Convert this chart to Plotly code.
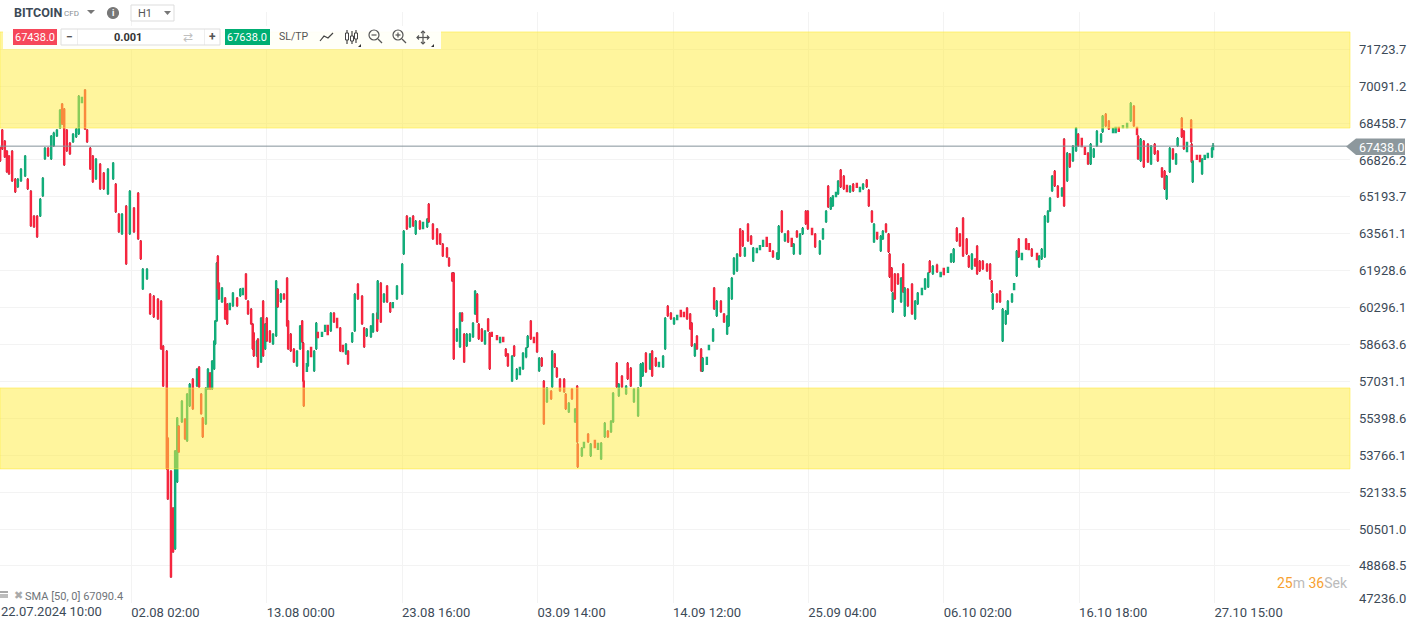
import plotly.graph_objects as go

WIDTH = 1415
HEIGHT = 623
PLOT_LEFT, PLOT_TOP, PLOT_W, PLOT_H = 0, 12, 1350, 591

bars = [
    8, 12, 17, 21, 25, 31, 37, 42, 48, 56,
    61, 67, 73, 79, 85, 90, 94, 100, 106, 111,
    117, 123, 127, 131, 136, 142, 148, 154, 159, 165,
    171, 175, 181, 186, 192, 200, 207, 215, 225, 230,
    236, 242, 250, 257, 265, 273, 278, 282, 290, 296,
    303, 311, 317, 321, 328, 330, 336, 340, 344, 348,
    351, 357, 363, 367, 372, 378, 386, 390, 394, 397,
    403, 407, 411, 415, 419, 421, 424, 426, 428, 434,
    440, 444, 449, 455, 463, 469, 474, 480, 484, 490,
    493, 495, 501, 503, 509, 513, 517, 520, 526, 532,
    538, 541, 547, 553, 559, 561, 566, 572, 578, 584,
    588, 590, 591, 597, 599, 605, 611, 615, 618, 626,
    632, 637, 643, 649, 655, 661, 666, 672, 676, 684,
    689, 695, 703, 707, 712, 720, 724, 732, 733, 739,
    745, 751, 757, 762, 770, 780, 783, 789, 795, 801,
    806, 814, 820, 828, 831, 839, 847, 853, 858, 866,
    870, 876, 879, 885, 891, 895, 899, 904, 910, 916,
    920, 924, 927, 933, 939, 945, 948, 952, 962, 968,
    974, 979, 983, 991, 995, 1000, 1006, 1012, 1018, 1021,
    1027, 1033, 1039, 1043, 1048, 1052, 1058, 1066, 1068, 1073,
    1077, 1083, 1091, 1094, 1100, 1106, 1112, 1116, 1117, 1125,
    1129, 1137, 1142, 1150, 1156, 1162, 1169, 1175, 1181, 1185,
    1192, 1196, 1202, 1210, 1213, 1219, 1225, 1233, 1238, 1242,
    1248, 1256, 1260, 1267, 1273, 1281, 1285, 1290, 1296, 1302,
    1308, 1315, 1321, 1327, 1333, 1336, 1342, 1346, 1354, 1357,
    1365, 1369, 1377, 1379, 1384, 1392, 1398, 1404, 1407, 1413,
    1417, 1423, 1429, 1434, 1438, 1444, 1450, 1454, 1461, 1467,
    1473, 1480, 1486, 1492, 1500, 1503, 1509, 1515, 1521, 1528,
    1532, 1538, 1544, 1549, 1555, 1559, 1567, 1573, 1582, 1588,
    1594, 1598, 1603, 1607, 1613, 1617, 1622, 1628, 1634, 1640,
    1646, 1653, 1659, 1665, 1672, 1676, 1682, 1686, 1692, 1699,
    1703, 1709, 1714, 1716, 1720, 1722, 1726, 1732, 1738, 1742,
    1745, 1751, 1759, 1765, 1770, 1778, 1784, 1790, 1793, 1799,
    1807, 1814, 1820, 1828, 1834, 1839, 1845, 1851, 1857, 1864,
    1868, 1874, 1880, 1884, 1889, 1895, 1903, 1909, 1912, 1914,
    1922, 1928, 1933, 1939, 1943, 1951, 1955, 1960, 1964, 1970,
    1978, 1983, 1989, 1999, 2003, 2008, 2014, 2020, 2024, 2028,
    2033, 2039, 2047, 2051, 2057, 2062, 2068, 2074, 2078, 2085,
    2091, 2097, 2102, 2108, 2114, 2122, 2125, 2131, 2137, 2145,
    2150, 2156, 2164, 2172, 2179, 2185, 2191, 2193, 2198, 2204,
    2212, 2218, 2225, 2231, 2239, 2244, 2248, 2254, 2260, 2266,
    2269, 2277, 2281, 2287, 2295, 2296, 2298, 2306, 2312, 2316,
    2321, 2327, 2335, 2337,
]

highs = [
    67400, 68200, 67710, 67270, 67050, 67270, 66030, 66030, 66470, 67050,
    66030, 65500, 64390, 64390, 65140, 66070, 67400, 67400, 67930, 68070,
    68200, 69080, 69350, 69130, 68200, 67620, 68020, 68240, 69700, 69610,
    69970, 68200, 67400, 67050, 66910, 66690, 66300, 66470, 66740, 65810,
    64480, 64480, 64830, 65500, 64750, 65410, 63290, 62050, 62050, 60940,
    60850, 60720, 60630, 58640, 58420, 54570, 53110, 51470, 54000, 55460,
    55100, 56210, 55410, 56520, 56960, 57180, 57620, 57710, 56520, 55460,
    56780, 57620, 57450, 57980, 58860, 59750, 62310, 62620, 61430, 61210,
    60770, 60500, 60500, 60990, 60770, 61160, 61160, 61830, 60630, 60280,
    59610, 59220, 58860, 58950, 59880, 60630, 59610, 59880, 59310, 59170,
    61520, 61160, 60940, 60940, 61650, 59750, 59170, 58510, 58420, 59530,
    59750, 58770, 57090, 57840, 58420, 58550, 58420, 59660, 59220, 59220,
    59530, 59530, 60100, 60100, 59840, 59440, 58640, 58730, 58420, 59220,
    60940, 61380, 60850, 59440, 59390, 59530, 60060, 60100, 61520, 61430,
    60940, 61300, 60540, 60540, 61300, 62270, 63730, 64390, 64300, 64390,
    64170, 64170, 64080, 64260, 64920, 64040, 63820, 63600, 63150, 62980,
    62530, 61870, 61870, 59390, 60100, 60100, 59170, 59170, 59170, 59660,
    61070, 60940, 59610, 59390, 59310, 59840, 59220, 59220, 59080, 59000,
    59000, 58510, 58290, 58200, 58640, 57620, 57670, 58330, 58550, 59080,
    59750, 59000, 59220, 58110, 58110, 57090, 56780, 56650, 58420, 58290,
    57670, 57180, 57180, 56520, 56120, 56740, 55850, 56870, 54310, 54130,
    54350, 54750, 54310, 54440, 54310, 54350, 55230, 54880, 55320, 56560,
    57890, 56960, 57310, 56870, 57890, 57670, 56740, 56780, 57840, 57890,
    58330, 58290, 58420, 58110, 57890, 58200, 59880, 60410, 60100, 59880,
    59970, 60190, 60100, 60320, 60060, 59660, 58730, 59080, 58510, 58110,
    58110, 58640, 59390, 61210, 60630, 60630, 60060, 59970, 61210, 61650,
    62530, 62710, 63820, 63730, 62980, 64040, 63510, 62980, 62930, 63060,
    63290, 63420, 63150, 62840, 62760, 63950, 64610, 63600, 63730, 63380,
    63150, 63730, 63600, 63860, 64610, 64610, 63820, 63600, 63290, 63820,
    64610, 65720, 65190, 65280, 65410, 65940, 66430, 66160, 65720, 65720,
    65810, 65810, 65630, 65810, 65990, 65540, 64610, 64040, 63640, 63510,
    63730, 64040, 63600, 62710, 62090, 60990, 61830, 61830, 61650, 62270,
    61210, 61160, 61380, 60630, 60990, 61160, 61610, 61870, 62400, 62180,
    62230, 61870, 62050, 62090, 62710, 62930, 63860, 63600, 64300, 63380,
    62620, 62710, 62490, 63060, 62400, 62400, 62270, 62270, 61520, 60940,
    60940, 61070, 60280, 60190, 60630, 60940, 61380, 62840, 63380, 62710,
    63380, 63150, 62930, 62710, 62620, 62930, 64390, 64610, 65190, 66160,
    66380, 65720, 65630, 67800, 67180, 67140, 67490, 68290, 68020, 67800,
    67400, 67180, 67580, 67360, 68150, 68020, 68820, 68900, 68600, 68240,
    68290, 68290, 68370, 68460, 69390, 69260, 68290, 67930, 67800, 67710,
    67580, 67490, 67580, 67270, 66520, 66380, 66160, 67400, 67360, 67140,
    67840, 68730, 68150, 67620, 68640, 67580, 66830, 67050, 67050, 66910,
    67050, 67140, 67400, 67580,
]

lows = [
    66740, 67270, 66910, 66250, 66160, 65850, 65370, 65590, 65850, 66070,
    65500, 63860, 63820, 63380, 64300, 65190, 66830, 66960, 66830, 67400,
    67840, 68200, 68370, 66560, 67180, 67050, 67580, 67800, 67930, 69350,
    68150, 67580, 66380, 65810, 65940, 65500, 65500, 65280, 65940, 64480,
    63600, 63510, 62180, 63510, 63600, 63290, 62400, 61070, 61520, 59970,
    59840, 59750, 58420, 56780, 53110, 51780, 48330, 49440, 49570, 52540,
    53860, 55190, 54440, 54350, 55900, 55770, 56780, 56740, 55550, 54530,
    55100, 56650, 56650, 56650, 57540, 58640, 59660, 61070, 60630, 60500,
    59750, 59530, 60190, 60320, 60320, 60770, 60850, 60630, 59970, 59530,
    58420, 58110, 58110, 57620, 57840, 58110, 58420, 58770, 58730, 58640,
    59000, 60280, 60500, 60630, 59440, 58420, 58330, 57840, 57670, 58420,
    58730, 57000, 55900, 57450, 57670, 58110, 57450, 58420, 58950, 59000,
    59220, 59080, 59220, 59610, 59390, 58330, 58330, 58200, 57760, 58730,
    59220, 60630, 59530, 58510, 59000, 58950, 59170, 59220, 59750, 59610,
    60500, 60500, 60060, 60280, 60630, 60850, 62620, 63730, 63820, 63860,
    63510, 63730, 63770, 63820, 64040, 63290, 63060, 63060, 62530, 62490,
    62090, 61430, 57980, 58770, 58510, 59660, 57840, 58550, 58770, 58950,
    59970, 59610, 58860, 58770, 58640, 59220, 57540, 59000, 58860, 58730,
    58770, 58110, 57670, 57000, 58110, 57090, 57310, 57540, 58060, 58510,
    58860, 58730, 58290, 57450, 57670, 55100, 56080, 56210, 56740, 57620,
    57180, 56560, 56520, 55770, 55630, 56210, 55190, 54310, 53200, 53690,
    54080, 54310, 53690, 54080, 54000, 53550, 54530, 54530, 54750, 55190,
    56740, 56340, 56740, 56430, 57090, 56780, 56080, 55460, 56780, 57230,
    57400, 57530, 57230, 57670, 57670, 57620, 58420, 59880, 59750, 59530,
    59750, 59880, 59880, 59750, 59310, 58550, 58110, 58420, 57450, 57450,
    57760, 58420, 58770, 60190, 59880, 60060, 59610, 59080, 59440, 60630,
    61740, 61870, 62530, 62980, 62530, 63200, 63060, 62310, 62710, 62840,
    62980, 62980, 62760, 62490, 62400, 62400, 63600, 63200, 63150, 62980,
    62620, 63380, 62620, 63510, 63950, 63730, 63510, 62930, 62620, 63290,
    64040, 64700, 64610, 64750, 65190, 65280, 65590, 65500, 65410, 65370,
    65410, 65590, 65410, 65500, 65590, 64750, 64040, 63150, 63290, 62760,
    63290, 63600, 62710, 61610, 60990, 60060, 60630, 61300, 60500, 60940,
    59880, 60320, 59970, 59750, 60410, 60850, 61070, 61160, 61830, 61740,
    61830, 61650, 61740, 61830, 62270, 62270, 63200, 62980, 62530, 62620,
    62050, 61960, 62090, 61740, 61870, 61960, 61870, 61520, 60940, 60190,
    60500, 60500, 58770, 59530, 59970, 60500, 61070, 61650, 62490, 62400,
    62840, 62840, 62530, 62400, 62050, 62400, 62490, 64040, 64520, 65410,
    65630, 65140, 65190, 64750, 65850, 66470, 66740, 67180, 67400, 67400,
    67050, 66600, 66600, 66910, 67400, 67580, 68020, 68290, 68150, 68020,
    68020, 68070, 68240, 68240, 68510, 68290, 67930, 66830, 66740, 66470,
    66690, 66600, 67050, 66740, 66030, 65500, 65060, 66250, 66830, 66600,
    67400, 67800, 67270, 67180, 67580, 66690, 65810, 66830, 66740, 66160,
    66830, 66910, 66910, 67270,
]

opens = [
    67310, 68110, 67620, 67180, 66960, 67180, 65940, 65680, 65940, 66160,
    65940, 65410, 64300, 64300, 64390, 65280, 66920, 67310, 66920, 67490,
    67930, 68290, 69260, 69040, 68110, 67530, 67670, 67890, 68020, 69390,
    69880, 68110, 67310, 66960, 66030, 66600, 66210, 65370, 66030, 65720,
    64390, 63600, 64740, 63600, 64660, 65320, 63200, 61160, 61610, 60850,
    60760, 60630, 60540, 58550, 58330, 54480, 53020, 51380, 49660, 52630,
    55010, 55280, 55320, 54440, 55990, 57090, 56870, 57620, 56430, 55370,
    55190, 56740, 57360, 56740, 57630, 58730, 59750, 62530, 61340, 60590,
    60680, 60410, 60230, 60410, 60680, 60860, 60890, 61740, 60540, 60190,
    59520, 59130, 58200, 58860, 57930, 60540, 58510, 59790, 59220, 58730,
    59090, 61070, 60590, 60850, 61560, 59660, 59080, 58420, 57760, 58510,
    59660, 58680, 57000, 57490, 57760, 58510, 57540, 58510, 59180, 59040,
    59260, 59490, 59310, 60010, 59800, 59350, 58600, 58290, 58330, 58820,
    59310, 61290, 60760, 59350, 59090, 59040, 59260, 60010, 59840, 61340,
    60590, 61210, 60450, 60320, 60720, 60940, 62710, 64300, 63910, 64300,
    63600, 64080, 63810, 63910, 64830, 63950, 63730, 63510, 63060, 62890,
    62440, 61780, 61780, 58860, 58600, 60010, 59080, 58640, 58860, 59040,
    60060, 60850, 59520, 59300, 58730, 59750, 59130, 59180, 59040, 58770,
    58960, 58420, 58200, 57090, 58550, 57180, 57350, 57630, 58150, 58600,
    59660, 58960, 59130, 57540, 58020, 57000, 56170, 56560, 56830, 58200,
    57580, 57090, 57090, 56430, 55720, 56650, 55280, 56780, 54220, 53780,
    54120, 54660, 53780, 54400, 54040, 53640, 54620, 54790, 54840, 55280,
    57800, 56430, 57220, 56520, 57800, 57580, 56170, 55550, 56870, 57320,
    58240, 57620, 58330, 58020, 57710, 57710, 58510, 60320, 60010, 59620,
    59790, 60150, 60060, 60230, 59970, 59570, 58200, 58990, 58420, 57540,
    57800, 58460, 58860, 61120, 59970, 60540, 59970, 59170, 59530, 60720,
    61830, 61960, 63730, 63640, 62620, 63950, 63420, 62400, 62750, 62880,
    63020, 63380, 63110, 62750, 62490, 62490, 64520, 63290, 63640, 63340,
    62710, 63640, 62710, 63600, 64520, 64520, 63780, 63510, 62710, 63380,
    64130, 65630, 64700, 64840, 65230, 65370, 66340, 66070, 65680, 65460,
    65720, 65770, 65450, 65590, 65900, 65450, 64520, 63240, 63600, 62850,
    63380, 63950, 63510, 62620, 62000, 60150, 61740, 61740, 60590, 62180,
    59970, 61070, 61290, 59840, 60500, 60890, 61160, 61250, 62310, 61830,
    62140, 61690, 62010, 61870, 62360, 62360, 63770, 63510, 64210, 63290,
    62530, 62050, 62400, 62970, 62310, 62310, 62180, 62180, 61430, 60280,
    60850, 60980, 58860, 59620, 60060, 60590, 61110, 61740, 63290, 62440,
    63290, 63110, 62840, 62670, 62140, 62490, 62580, 64130, 64610, 65500,
    66290, 65630, 65280, 67710, 65940, 67050, 66830, 67270, 67930, 67760,
    67360, 67090, 66690, 67000, 67490, 67670, 68110, 68810, 68510, 68060,
    68060, 68250, 68280, 68280, 68600, 69170, 68250, 67840, 66830, 67620,
    67490, 66690, 67490, 67180, 66430, 66290, 65150, 66340, 67270, 66690,
    67490, 68640, 68060, 67220, 68550, 67490, 65900, 67010, 67010, 66250,
    66870, 66950, 67000, 67310,
]

closes = [
    66830, 67360, 67000, 66340, 66250, 65940, 65460, 65940, 66380, 66960,
    65590, 63950, 63910, 63470, 65050, 65980, 67310, 67050, 67840, 67980,
    68110, 68990, 68460, 66650, 67270, 67140, 67930, 68150, 69610, 69570,
    68240, 67670, 66470, 65900, 66820, 65590, 65590, 66380, 66650, 64570,
    63690, 64390, 62270, 65410, 63690, 63380, 62490, 61960, 61960, 60060,
    59930, 59840, 58510, 56870, 53200, 51870, 48420, 49530, 53910, 55370,
    53950, 56120, 54530, 56430, 56870, 55860, 57530, 56830, 55640, 54620,
    56690, 57530, 56740, 57890, 58770, 59660, 62220, 61160, 60720, 61120,
    59840, 59620, 60460, 60900, 60410, 61070, 61120, 60720, 60060, 59620,
    58510, 58200, 58770, 57710, 59790, 58200, 59520, 58860, 58820, 59080,
    61430, 60370, 60850, 60720, 59530, 58510, 58420, 57930, 58330, 59440,
    58820, 57090, 55990, 57800, 58330, 58150, 58330, 59570, 58990, 59180,
    59490, 59120, 60010, 59700, 59430, 58420, 58370, 58640, 57850, 59130,
    60850, 60720, 59620, 58600, 59300, 59440, 59970, 59310, 61430, 59700,
    60850, 60590, 60150, 60500, 61210, 62180, 63640, 63820, 64210, 63950,
    64080, 63820, 64040, 64170, 64130, 63380, 63150, 63150, 62620, 62580,
    62180, 61520, 58070, 59300, 60010, 59750, 57930, 59080, 59080, 59570,
    60980, 59700, 58950, 58860, 59220, 59310, 57630, 59040, 58900, 58960,
    58810, 58200, 57760, 58110, 58200, 57530, 57630, 58240, 58460, 58990,
    58950, 58770, 58380, 58020, 57760, 55190, 56690, 56300, 58330, 57710,
    57270, 56650, 56610, 55860, 56030, 56300, 55760, 54400, 53290, 54040,
    54310, 54400, 54220, 54120, 54270, 54260, 55140, 54620, 55230, 56470,
    56830, 56870, 56830, 56780, 57180, 56870, 56650, 56690, 57750, 57800,
    57490, 58200, 57320, 57760, 57850, 58110, 59790, 59970, 59840, 59790,
    59930, 59920, 59920, 59840, 59400, 58640, 58640, 58510, 57540, 58020,
    58070, 58600, 59300, 60280, 60540, 60150, 59700, 59880, 61120, 61560,
    62440, 62620, 62620, 63070, 62890, 63290, 63150, 62890, 62890, 63020,
    63250, 63020, 62800, 62580, 62670, 63860, 63690, 63510, 63240, 63020,
    63060, 63470, 63510, 63770, 64040, 63820, 63550, 63020, 63200, 63730,
    64520, 64790, 65100, 65190, 65370, 65850, 65680, 65590, 65450, 65630,
    65500, 65630, 65590, 65720, 65680, 64840, 64130, 63950, 63380, 63420,
    63640, 63690, 62800, 61700, 61080, 60900, 60720, 61390, 61560, 61030,
    61120, 60410, 60060, 60540, 60900, 61120, 61520, 61780, 61920, 62090,
    61920, 61830, 61780, 62050, 62620, 62840, 63290, 63070, 62620, 62710,
    62140, 62620, 62180, 61830, 61960, 62050, 61960, 61610, 61030, 60850,
    60590, 60590, 60190, 60100, 60540, 60850, 61340, 62750, 62580, 62670,
    62930, 62880, 62620, 62440, 62530, 62840, 64300, 64520, 65100, 66070,
    65720, 65230, 65540, 64840, 67090, 66560, 67400, 68200, 67490, 67440,
    67090, 66690, 67490, 67270, 68060, 67930, 68730, 68380, 68240, 68200,
    68250, 68110, 68330, 68420, 69300, 68380, 67970, 66920, 67710, 66560,
    66780, 67400, 67140, 66830, 66120, 65590, 66070, 67310, 66920, 67050,
    67750, 67890, 67360, 67580, 67670, 66780, 66740, 66870, 66780, 66820,
    67010, 67100, 67310, 67438,
]

time_ticks = [260, 520, 780, 1040, 1300, 1560, 1820, 2080, 2340]
time_labels = ["02.08 02:00", "13.08 00:00", "23.08 16:00", "03.09 14:00", "14.09 12:00",
               "25.09 04:00", "06.10 02:00", "16.10 18:00", "27.10 15:00"]
first_time_label = "22.07.2024 10:00"

price_ticks = [71723.7, 70091.2, 68458.7, 66826.2, 65193.7, 63561.1, 61928.6, 60296.1,
               58663.6, 57031.1, 55398.6, 53766.1, 52133.5, 50501.0, 48868.5, 47236.0]

supply_zone = [68240, 72490]
demand_zone = [53160, 56740]
last_price = 67438.0
ask_price = 67638.0
sma_text = "SMA [50, 0] 67090.4"

FONT = "Roboto"
TEXT = "#3c4a57"
GREY = "#6f7479"


# paper coordinates cover the plot area only, so map page pixels onto it
def px(x):
    return (x - PLOT_LEFT) / PLOT_W


def py(y):
    return 1 - (y - PLOT_TOP) / PLOT_H


def ui_path(points, close=True):
    d = "M" + " L".join(f"{px(x):.5f},{py(y):.5f}" for x, y in points)
    return d + (" Z" if close else "")


def ui_rect(x0, y0, x1, y1, fill="white", line=None, width=1):
    return dict(type="rect", xref="paper", yref="paper", layer="above",
                x0=px(x0), x1=px(x1), y0=py(y0), y1=py(y1), fillcolor=fill,
                line=dict(color=line or "rgba(0,0,0,0)", width=width if line else 0))


def ui_poly(points, fill):
    return dict(type="path", xref="paper", yref="paper", layer="above", path=ui_path(points),
                fillcolor=fill, line=dict(width=0))


def ui_line(points, color="#555555", width=1.2):
    return dict(type="path", xref="paper", yref="paper", layer="above",
                path=ui_path(points, close=False), line=dict(color=color, width=width))


def ui_circle(cx, cy, r, fill="rgba(0,0,0,0)", line="#555555"):
    return dict(type="circle", xref="paper", yref="paper", layer="above",
                x0=px(cx - r), x1=px(cx + r), y0=py(cy + r), y1=py(cy - r),
                fillcolor=fill, line=dict(color=line, width=1.2))


def label(x, y, text, size=11, color=TEXT, anchor="left"):
    return dict(xref="paper", yref="paper", x=px(x), y=py(y), text=text, showarrow=False,
                xanchor=anchor, yanchor="middle", borderpad=0,
                font=dict(family=FONT, size=size, color=color))


fig = go.Figure()
# dark wicks first, brighter bodies drawn over them
fig.add_trace(go.Candlestick(
    x=bars, open=opens, high=highs, low=lows, close=closes,
    increasing=dict(line=dict(color="#0b7a55", width=1.3), fillcolor="#0b7a55"),
    decreasing=dict(line=dict(color="#a81a2e", width=1.3), fillcolor="#a81a2e"),
    hoverinfo="skip", showlegend=False,
))
fig.add_trace(go.Candlestick(
    x=bars, open=opens, close=closes,
    high=[max(o, c) for o, c in zip(opens, closes)],
    low=[min(o, c) for o, c in zip(opens, closes)],
    increasing=dict(line=dict(color="#12ad7a", width=2.2), fillcolor="#12ad7a"),
    decreasing=dict(line=dict(color="#f5263f", width=2.2), fillcolor="#f5263f"),
    hoverinfo="skip", showlegend=False,
))

shapes = []
for zone in (supply_zone, demand_zone):
    shapes.append(dict(type="rect", xref="paper", yref="y", layer="above",
                       x0=0, x1=1, y0=zone[0], y1=zone[1],
                       fillcolor="rgba(255,235,59,0.5)",
                       line=dict(color="rgba(255,235,59,0.55)", width=1)))
shapes.append(dict(type="line", xref="paper", yref="y", layer="above",
                   x0=0, x1=px(1347), y0=last_price, y1=last_price,
                   line=dict(color="#84929a", width=1)))
shapes.append(ui_poly([(1346, 146.5), (1356, 138.5), (1405, 138.5), (1405, 155), (1356, 155)], "#8d989d"))

# toolbar
shapes += [
    ui_rect(3, 26, 441, 49, "rgba(255,255,255,0.93)"),
    ui_rect(13, 29, 57, 45, "#f6475a"),
    ui_rect(61, 29, 220, 45, "white", "#dddddd"),
    ui_rect(77, 29, 77.5, 45, "#dddddd"),
    ui_rect(204, 29, 204.5, 45, "#dddddd"),
    ui_rect(225, 29, 270, 45, "#00ae73"),
    ui_rect(131, 5, 174, 21, "white", "#dddddd"),
    ui_poly([(87, 10), (95, 10), (91, 14)], "#777777"),
    ui_poly([(164, 11), (171, 11), (167.5, 15)], "#777777"),
    ui_circle(113, 13, 5.5, "#777777", "#777777"),
    # line chart icon
    ui_line([(320, 41), (324, 36), (328, 38), (333, 33)], "#444444"),
    # candle icon
    ui_line([(347, 30), (347, 44)], "#444444"),
    ui_line([(352, 31), (352, 44)], "#444444"),
    ui_line([(356, 30), (356, 43)], "#444444"),
    ui_rect(345.5, 33, 348.5, 40, "white", "#444444"),
    ui_rect(350.5, 36, 353.5, 41, "white", "#444444"),
    ui_rect(354.5, 33, 357.5, 39, "white", "#444444"),
    ui_poly([(361, 44), (361, 47), (358, 47)], "#333333"),
    # zoom icons
    ui_circle(374, 35, 5),
    ui_line([(378, 39), (382, 43)]),
    ui_line([(371.5, 35), (376.5, 35)]),
    ui_circle(398, 35, 5),
    ui_line([(402, 39), (406, 43)]),
    ui_line([(395.5, 35), (400.5, 35)]),
    ui_line([(398, 32.5), (398, 37.5)]),
    # move icon
    ui_line([(423, 31), (423, 44)]),
    ui_line([(417, 37.5), (429, 37.5)]),
    ui_line([(421, 33), (423, 31), (425, 33)]),
    ui_line([(421, 42), (423, 44), (425, 42)]),
    ui_line([(419, 35.5), (417, 37.5), (419, 39.5)]),
    ui_line([(427, 35.5), (429, 37.5), (427, 39.5)]),
    ui_poly([(434, 44), (434, 47), (431, 47)], "#333333"),
    # indicator icon next to the SMA label
    ui_rect(0, 591, 8, 593, "#a9a9a9"),
    ui_rect(0, 594, 8, 598, "#bdbdbd"),
]

annotations = [
    label(13, 13, "<b>BITCOIN</b>", 12.5, "#3c4a57"),
    label(63, 13.5, "CFD", 8, "#8a8f94"),
    label(113, 13, "<b>i</b>", 9, "white", "center"),
    label(137, 13.5, "H1", 11, "#555555"),
    label(35, 37.5, str(last_price), 11, "white", "center"),
    label(69, 37, "<b>−</b>", 12, "#555555", "center"),
    label(128, 37.5, "<b>0.001</b>", 11, "#333333", "center"),
    label(188, 37.5, "⇄", 12, "#c0c0c0", "center"),
    label(212, 37, "<b>+</b>", 12, "#555555", "center"),
    label(247.5, 37.5, str(ask_price), 11, "white", "center"),
    label(278, 36.5, "SL/TP", 10.5, "#555555"),
    label(1358, 147, f"{last_price:.1f}", 12.5, "white"),
    label(12.5, 595, "✖", 11, "#aaaaaa"),
    label(24, 596.5, sma_text, 11, GREY),
    label(1349, 583,
          '<span style="color:#f7a130">25</span><span style="color:#bbbbbb">m </span>'
          '<span style="color:#f7a130">36</span><span style="color:#bbbbbb">Sek</span>',
          14, "#bbbbbb", "right"),
    label(1358, 598, f"{price_ticks[-1]:.1f}", 13, TEXT),
    label(0, 611.5, first_time_label, 13, TEXT),
]

fig.update_layout(
    width=WIDTH, height=HEIGHT,
    margin=dict(l=PLOT_LEFT, r=WIDTH - PLOT_W, t=PLOT_TOP, b=HEIGHT - PLOT_TOP - PLOT_H, pad=0),
    paper_bgcolor="white", plot_bgcolor="white",
    font=dict(family=FONT, size=13, color=TEXT),
    showlegend=False, hovermode=False, dragmode=False,
    shapes=shapes, annotations=annotations,
    xaxis=dict(range=[7.7, 2600], rangeslider=dict(visible=False),
               tickmode="array", tickvals=time_ticks, ticktext=time_labels,
               ticklabelshift=34, ticklabelstandoff=0, ticks="", showline=False,
               gridcolor="#f3f3f3", gridwidth=1, zeroline=False),
    yaxis=dict(range=[47227, 73373], side="right",
               tickmode="array", tickvals=price_ticks,
               ticktext=[f"{v:.1f}" for v in price_ticks[:-1]] + [""],
               ticklabelstandoff=8, ticks="", showline=False,
               gridcolor="#f3f3f3", gridwidth=1, zeroline=False),
)

fig.write_html("out.html", config=dict(displayModeBar=False),
               post_script="document.body.style.margin='0';")
